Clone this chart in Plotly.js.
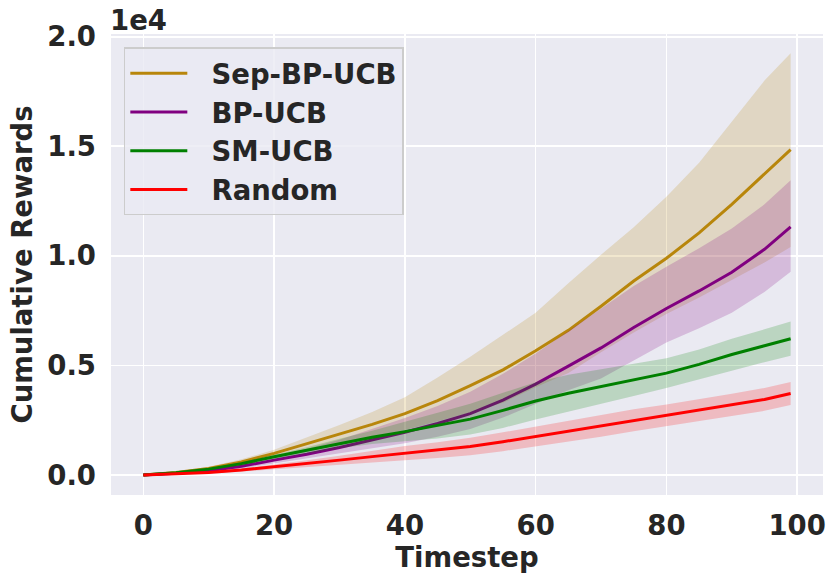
<!DOCTYPE html>
<html>
<head>
<meta charset="utf-8">
<script src="https://cdn.plot.ly/plotly-3.0.1.min.js"></script>
<style>html,body{margin:0;padding:0;background:#fff;}#chart{width:828px;height:575px;}</style>
</head>
<body>
<div id="chart"></div>
<script>
// Timesteps (sampled)
const timesteps = [0,5,10,15,20,25,30,35,40,45,50,55,60,65,70,75,80,85,90,95,99];

// Sep-BP-UCB
const sepMean  = [0,120,300,600,990,1420,1870,2310,2800,3400,4080,4800,5670,6600,7700,8850,9890,11050,12350,13750,14850];
const sepUpper = [0,150,380,720,1150,1700,2280,2880,3550,4450,5400,6400,7400,8750,10050,11300,12700,14250,16100,18000,19250];
const sepLower = [0,90,220,480,830,1150,1460,1750,2050,2450,2850,3300,4000,4650,5600,6500,7350,8100,8900,9700,10400];

// BP-UCB
const bpMean  = [0,80,200,400,680,950,1260,1600,1950,2350,2800,3420,4150,4970,5800,6730,7600,8400,9250,10300,11320];
const bpUpper = [0,100,250,500,830,1200,1610,2100,2600,3150,3800,4620,5550,6570,7600,8630,9500,10350,11250,12350,13450];
const bpLower = [0,60,150,300,530,750,960,1200,1450,1750,2100,2620,3250,3870,4400,5230,6050,6700,7400,8350,9270];

// SM-UCB
const smMean  = [0,100,270,520,830,1120,1440,1720,1980,2250,2550,2950,3380,3730,4030,4330,4650,5050,5500,5900,6220];
const smUpper = [0,120,310,590,930,1270,1660,2020,2430,2830,3250,3750,4230,4580,4830,5050,5330,5730,6220,6650,7000];
const smLower = [0,80,230,450,730,970,1220,1420,1530,1670,1850,2150,2530,2880,3230,3610,3970,4370,4780,5150,5440];

// Random
const rndMean  = [0,50,120,230,370,520,680,840,1000,1140,1300,1520,1760,2000,2250,2500,2720,2950,3200,3450,3720];
const rndUpper = [0,70,160,300,470,670,880,1100,1320,1500,1700,1950,2220,2480,2750,3000,3220,3450,3710,3970,4250];
const rndLower = [0,30,80,160,270,370,480,580,680,780,900,1090,1300,1520,1750,2000,2220,2450,2690,2930,3190];

const names = ["Sep-BP-UCB","BP-UCB","SM-UCB","Random"];
const xTicks = [0,20,40,60,80,100];
const xTickText = ["0","20","40","60","80","100"];
const yTicks = [0,5000,10000,15000,20000];
const yTickText = ["0.0","0.5","1.0","1.5","2.0"];

const series = [
  {name: names[0], mean: sepMean, up: sepUpper, lo: sepLower, color: "#b8860b", fill: "rgba(184,134,11,0.2)"},
  {name: names[1], mean: bpMean, up: bpUpper, lo: bpLower, color: "#800080", fill: "rgba(128,0,128,0.2)"},
  {name: names[2], mean: smMean, up: smUpper, lo: smLower, color: "#008000", fill: "rgba(0,128,0,0.2)"},
  {name: names[3], mean: rndMean, up: rndUpper, lo: rndLower, color: "#ff0000", fill: "rgba(255,0,0,0.2)"}
];

const traces = [];
series.forEach(s => {
  traces.push({x: timesteps, y: s.lo, mode: "lines", line: {width: 0, color: s.fill}, showlegend: false, hoverinfo: "skip"});
  traces.push({x: timesteps, y: s.up, mode: "lines", line: {width: 0, color: s.fill}, fill: "tonexty", fillcolor: s.fill, showlegend: false, hoverinfo: "skip"});
  traces.push({x: timesteps, y: s.mean, mode: "lines", name: "\u00a0\u00a0" + s.name, line: {width: 3, color: s.color}});
});

const font = {family: "DejaVu Sans", size: 27.5, color: "#262626", weight: "bold"};

const layout = {
  width: 828, height: 575,
  margin: {l: 111, r: 5, t: 33.5, b: 80},
  paper_bgcolor: "#ffffff",
  plot_bgcolor: "#eaeaf2",
  font: font,
  showlegend: true,
  xaxis: {
    range: [-4.95, 103.95],
    tickvals: xTicks, ticktext: xTickText,
    showgrid: true, gridcolor: "#ffffff", gridwidth: 1.6,
    zeroline: false, showline: false, ticks: "",
    ticklabelstandoff: 11,
    tickfont: font,
    title: {text: "Timestep", font: font, standoff: 5}
  },
  yaxis: {
    range: [-911, 20123],
    tickvals: yTicks, ticktext: yTickText,
    showgrid: true, gridcolor: "#ffffff", gridwidth: 1.6,
    zeroline: false, showline: false, ticks: "",
    ticklabelstandoff: 14,
    tickfont: font,
    title: {text: "Cumulative Rewards", font: font, standoff: 6}
  },
  legend: {
    x: 0.018, y: 0.971, xanchor: "left", yanchor: "top",
    traceorder: "normal",
    bgcolor: "rgba(234,234,242,0.8)",
    bordercolor: "#cccccc", borderwidth: 1.5,
    font: font,
    itemwidth: 57,
    tracegroupgap: 0
  },
  annotations: [{
    text: "1e4", xref: "paper", yref: "paper", x: 0, y: 1,
    xanchor: "left", yanchor: "bottom", showarrow: false,
    font: font, yshift: -4, xshift: -3
  }]
};

Plotly.newPlot("chart", traces, layout, {displayModeBar: false, staticPlot: true});
</script>
</body>
</html>
